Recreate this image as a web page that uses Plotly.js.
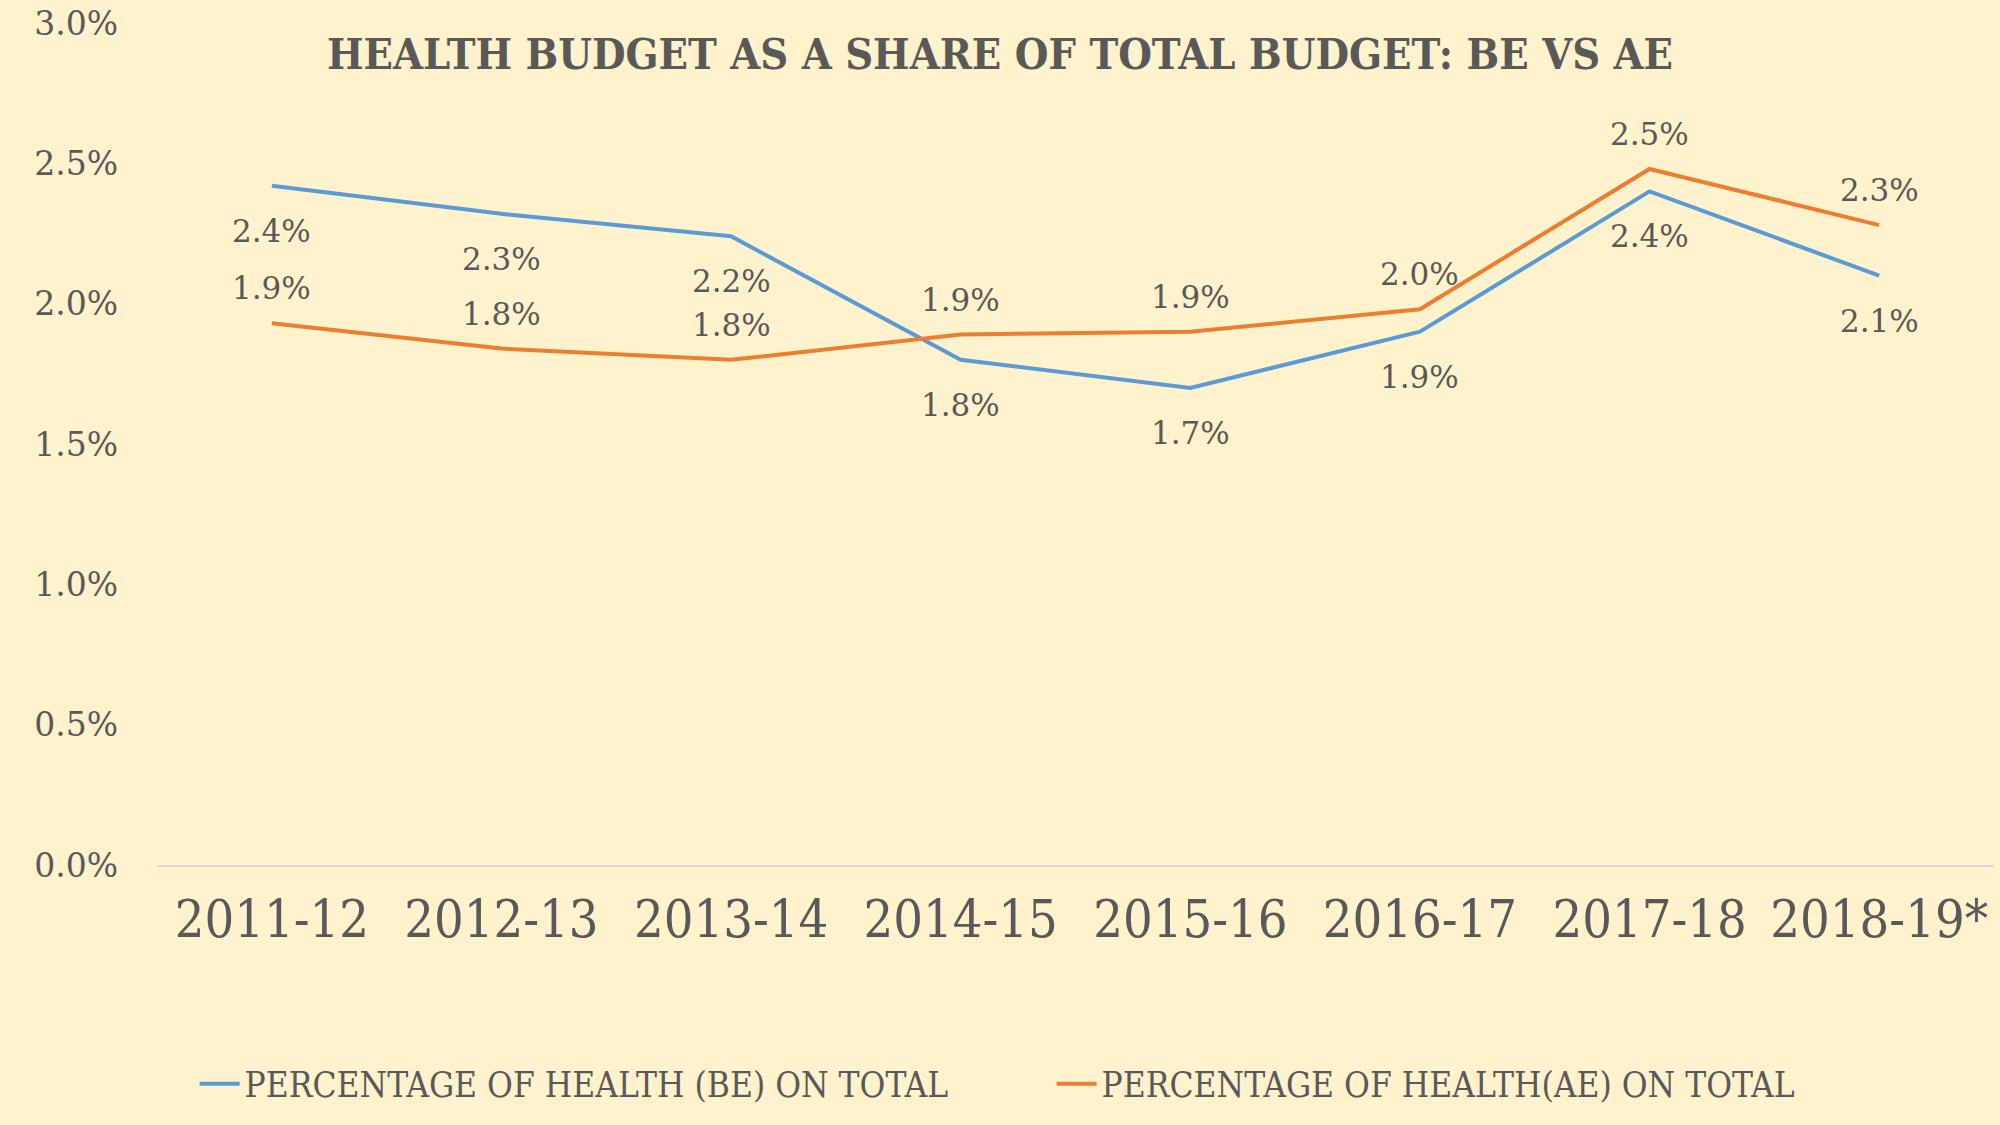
<!DOCTYPE html>
<html>
<head>
<meta charset="utf-8">
<script src="https://cdn.plot.ly/plotly-3.0.1.min.js"></script>
<style>html,body{margin:0;padding:0;background:#FFF2CC;}#chart{width:2000px;height:1125px;}</style>
</head>
<body>
<div id="chart"></div>
<script>
const years = ["2011-12","2012-13","2013-14","2014-15","2015-16","2016-17","2017-18","2018-19*"];
const beValues = [2.42, 2.32, 2.24, 1.80, 1.70, 1.90, 2.40, 2.10];
const aeValues = [1.93, 1.84, 1.80, 1.89, 1.90, 1.98, 2.48, 2.28];
const beName = "PERCENTAGE OF HEALTH (BE) ON TOTAL";
const aeName = "PERCENTAGE OF HEALTH(AE) ON TOTAL";
const titleText = "HEALTH BUDGET AS A SHARE OF TOTAL BUDGET: BE VS AE";
const yTicks = [0, 0.5, 1.0, 1.5, 2.0, 2.5, 3.0];

const textColor = "#595959";
const condensed = "'DejaVu Serif Condensed', 'DejaVu Serif', serif";
const wide = "'DejaVu Serif', serif";

const traces = [
  {x: years, y: beValues, name: beName, type: "scatter", mode: "lines",
   line: {color: "#5B9BD5", width: 4}},
  {x: years, y: aeValues, name: aeName, type: "scatter", mode: "lines",
   line: {color: "#ED7D31", width: 4}}
];

const annotations = [];
years.forEach((yr, i) => {
  annotations.push({x: yr, y: beValues[i], xref: "x", yref: "y", text: beValues[i].toFixed(1) + "%",
    showarrow: false, yshift: -45, font: {family: wide, size: 31, color: textColor}});
  annotations.push({x: yr, y: aeValues[i], xref: "x", yref: "y", text: aeValues[i].toFixed(1) + "%",
    showarrow: false, yshift: 35, font: {family: wide, size: 31, color: textColor}});
});

const layout = {
  width: 2000, height: 1125,
  paper_bgcolor: "#FFF2CC", plot_bgcolor: "#FFF2CC",
  margin: {l: 157, r: 6, t: 23, b: 260},
  title: {text: titleText, x: 0.5, xanchor: "center", y: 1 - 54/1125, yanchor: "middle", yref: "container",
    font: {family: condensed, size: 43, color: textColor, weight: "bold"}},
  xaxis: {type: "category", range: [-0.5, 7.5], showgrid: false, zeroline: false,
    showline: true, linecolor: "#D9D9D9", linewidth: 2, ticks: "",
    ticklabelstandoff: 8, tickfont: {family: condensed, size: 52, color: textColor}},
  yaxis: {range: [0, 3], tickvals: yTicks, ticktext: yTicks.map(v => v.toFixed(1) + "%"),
    showgrid: false, zeroline: false, showline: false, ticks: "",
    ticklabelstandoff: 38, tickfont: {family: wide, size: 33, color: textColor}},
  showlegend: true,
  legend: {orientation: "h", x: 0.487, xanchor: "center", y: (1125 - 1084) / 1125, yref: "container", yanchor: "middle",
    font: {family: condensed, size: 35, color: textColor}, bgcolor: "rgba(0,0,0,0)", itemwidth: 40,
    entrywidth: 802, entrywidthmode: "pixels"},
  annotations: annotations
};

Plotly.newPlot("chart", traces, layout, {displayModeBar: false, staticPlot: true});
</script>
</body>
</html>
